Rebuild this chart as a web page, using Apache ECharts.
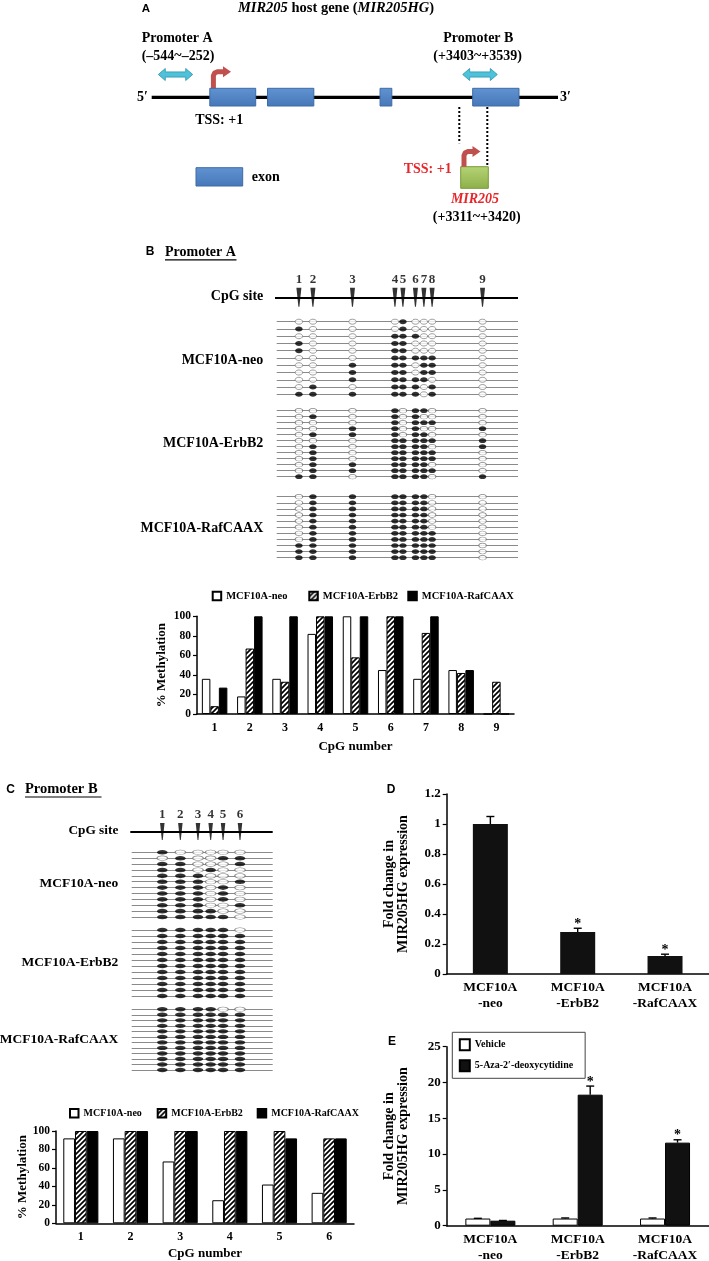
<!DOCTYPE html>
<html><head><meta charset="utf-8">
<script src="https://cdn.jsdelivr.net/npm/echarts@6/dist/echarts.min.js"></script>
<style>html,body{margin:0;padding:0;background:#fff}#c{width:709px;height:1261px}</style>
</head><body><div id="c"></div>
<script>
// ---------------- DATA ----------------
// Panel A: exon spans along the gene schematic (relative units, 0-100)
const exonStart = [14.3, 28.5, 56.2, 79.0];
const exonEnd   = [25.6, 39.9, 59.1, 90.4];

// Panel B: promoter A CpG sites (relative position along amplicon, 0-100)
const cpgNumbersB = ['1','2','3','4','5','6','7','8','9'];
const sitePosB = [9.2, 15.0, 31.4, 49.0, 52.3, 57.5, 61.0, 64.4, 85.3];
const methB_neo = [
 [0,0,0,0,1,0,0,0,0],[1,0,0,0,1,0,0,0,0],[0,0,0,1,1,1,0,0,0],[1,0,0,1,1,0,0,0,0],
 [1,0,0,1,1,0,0,0,0],[0,0,0,1,1,1,1,1,0],[0,0,1,1,1,0,1,1,0],[0,0,1,1,1,0,1,1,0],
 [0,0,1,1,1,1,1,0,0],[0,1,0,1,1,1,0,1,0],[1,1,1,1,1,1,0,1,0]];
const methB_erb = [
 [0,0,0,1,0,1,1,0,0],[0,1,0,1,0,1,0,0,0],[0,0,0,1,0,1,1,1,0],[0,0,1,1,0,1,0,0,1],
 [0,1,1,1,0,1,1,0,0],[0,0,0,1,1,1,1,1,1],[0,1,0,1,1,1,1,0,1],[0,1,0,1,1,1,1,1,0],
 [0,1,0,1,1,1,1,1,0],[0,1,1,1,1,1,1,0,0],[0,1,1,1,1,1,1,1,0],[1,1,0,1,1,1,1,0,1]];
const methB_raf = [
 [0,1,1,1,1,1,1,0,0],[0,1,1,1,1,1,1,0,0],[0,1,1,1,1,1,1,0,0],[0,1,1,1,1,1,1,0,0],
 [0,1,1,1,1,1,1,0,0],[0,1,1,1,1,1,1,0,0],[0,1,1,1,1,1,1,1,0],[0,1,1,1,1,1,1,1,0],
 [1,1,1,1,1,1,1,1,0],[1,1,1,1,1,1,1,1,0],[1,1,1,1,1,1,1,1,0]];
const pctB_neo = [36, 18, 36, 82, 100, 45, 36, 45, 0];
const pctB_erb = [8, 67, 33, 100, 58, 100, 83, 42, 33];
const pctB_raf = [27, 100, 100, 100, 100, 100, 100, 45, 0];

// Panel C: promoter B CpG sites
const cpgNumbersC = ['1','2','3','4','5','6'];
const sitePosC = [21.7, 34.5, 47.0, 56.0, 64.8, 76.8];
const methC_neo = [
 [1,0,0,0,0,0],[0,1,0,0,1,1],[1,1,0,0,0,1],[1,1,0,1,0,0],[1,1,1,0,0,0],[1,1,1,0,0,1],
 [1,1,1,0,1,0],[1,1,1,0,1,0],[1,1,1,0,1,0],[1,1,1,0,0,1],[1,1,1,1,0,0],[1,1,1,1,1,0]];
const methC_erb = [
 [1,1,1,1,1,0],[1,1,1,1,1,1],[1,1,1,1,1,1],[1,1,1,1,1,1],[1,1,1,1,1,1],[1,1,1,1,1,1],
 [1,1,1,1,1,1],[1,1,1,1,1,1],[1,1,1,1,1,1],[1,1,1,1,1,1],[1,1,1,1,1,1],[1,1,1,1,1,1]];
const methC_raf = [
 [1,1,1,1,0,0],[1,1,1,1,1,1],[1,1,1,1,1,1],[1,1,1,1,1,1],[1,1,1,1,1,1],[1,1,1,1,1,1],
 [1,1,1,1,1,1],[1,1,1,1,1,1],[1,1,1,1,1,1],[1,1,1,1,1,1],[1,1,1,1,1,1],[1,1,1,1,1,1]];
const pctC_neo = [92, 92, 67, 25, 42, 33];
const pctC_erb = [100, 100, 100, 100, 100, 92];
const pctC_raf = [100, 100, 100, 100, 92, 92];

// Panel D
const cellLines = ['MCF10A\n-neo', 'MCF10A\n-ErbB2', 'MCF10A\n-RafCAAX'];
const foldD = [1.0, 0.28, 0.12];
const errD  = [0.05, 0.025, 0.012];
const sigD  = [0, 1, 1];

// Panel E
const vehicleE    = [1.0, 1.0, 1.0];
const vehicleErrE = [0.03, 0.08, 0.08];
const azaE        = [0.7, 18.3, 11.6];
const azaErrE     = [0.03, 1.2, 0.4];
const sigE        = [0, 1, 1];

// ---------------- STYLE HELPERS ----------------
const F = 'Liberation Serif';
const txt = (size, extra) => Object.assign({fontFamily: F, fontWeight: 'bold', fontSize: size, color: '#000'}, extra || {});
const font = (size, style) => (style ? style + ' ' : '') + 'bold ' + size + 'px "Liberation Serif"';

function hatchCanvas() {
  const c = document.createElement('canvas'); c.width = 5; c.height = 5;
  const g = c.getContext('2d');
  g.fillStyle = '#fff'; g.fillRect(0, 0, 5, 5);
  g.strokeStyle = '#000'; g.lineWidth = 1.7; g.beginPath();
  g.moveTo(0, 5); g.lineTo(5, 0);
  g.moveTo(-1, 1); g.lineTo(1, -1);
  g.moveTo(4, 6); g.lineTo(6, 4);
  g.stroke();
  return c;
}
const hatch = {image: hatchCanvas(), repeat: 'repeat'};

const ELLIPSE = 'path://M0,5C0,2.24 2.24,0 5,0C7.76,0 10,2.24 10,5C10,7.76 7.76,10 5,10C2.24,10 0,7.76 0,5Z';
const SPIKE = 'path://M0,0L10,0L6,40L4,40Z';

const chart = echarts.init(document.getElementById('c'), null, {width: 709, height: 1261});

const grids = [], xAxes = [], yAxes = [], series = [];
function addGrid(g) { grids.push(Object.assign({outerBoundsMode: 'none', containLabel: false}, g)); return grids.length - 1; }
function hiddenAxes(gi, ymin, ymax, inverse) {
  xAxes.push({type: 'value', gridIndex: gi, min: 0, max: 100, show: false});
  yAxes.push({type: 'value', gridIndex: gi, min: ymin, max: ymax, inverse: !!inverse, show: false});
}

// ---- Panel A grid (exons) ----
const gA = addGrid({left: 151.7, top: 88.3, width: 406.3, height: 17.7});
hiddenAxes(gA, 0, 1);
series.push({
  type: 'custom', xAxisIndex: gA, yAxisIndex: gA, z: 5, silent: true,
  data: exonStart.map((s, i) => [s, exonEnd[i]]),
  renderItem: (p, api) => {
    const a = api.coord([api.value(0), 1]), b = api.coord([api.value(1), 0]);
    return {type: 'rect', shape: {x: a[0], y: a[1], width: b[0] - a[0], height: b[1] - a[1]},
      style: {fill: new echarts.graphic.LinearGradient(0, 0, 0, 1, [{offset: 0, color: '#6193d2'}, {offset: 1, color: '#4677b8'}]),
              stroke: '#3d6ba5', lineWidth: 1}};
  }
});

// ---- Lollipop builder ----
function lollipopHeader(left, width, top, height, sites, nums, mSize, lblSize) {
  const gi = addGrid({left, top, width, height});
  hiddenAxes(gi, 0, 1);
  series.push({type: 'lines', coordinateSystem: 'cartesian2d', xAxisIndex: gi, yAxisIndex: gi, silent: true, z: 2,
    data: [{coords: [[-1, 0.5], [100, 0.5]]}], lineStyle: {color: '#000', width: 2, opacity: 1}});
  series.push({type: 'scatter', xAxisIndex: gi, yAxisIndex: gi, silent: true, z: 4,
    symbol: SPIKE, symbolSize: mSize, itemStyle: {color: '#000'},
    data: sites.map(s => [s, 0.5]),
    label: {show: true, position: 'top', distance: 2, formatter: p => nums[p.dataIndex], ...txt(lblSize)}});
}
function lollipopGroup(left, width, top, height, sites, mat, eSize) {
  const gi = addGrid({left, top, width, height});
  hiddenAxes(gi, -0.5, mat.length - 0.5, true);
  series.push({type: 'lines', coordinateSystem: 'cartesian2d', xAxisIndex: gi, yAxisIndex: gi, silent: true, z: 2,
    data: mat.map((r, i) => ({coords: [[0, i], [100, i]]})), lineStyle: {color: '#8a8a8a', width: 1, opacity: 1}});
  const filled = [], open = [];
  mat.forEach((row, r) => row.forEach((v, s) => (v ? filled : open).push([sites[s], r])));
  series.push({type: 'scatter', xAxisIndex: gi, yAxisIndex: gi, silent: true, z: 4, symbol: ELLIPSE, symbolSize: eSize,
    data: open, itemStyle: {color: '#fff', borderColor: '#6a6a6a', borderWidth: 0.8}});
  series.push({type: 'scatter', xAxisIndex: gi, yAxisIndex: gi, silent: true, z: 4, symbol: ELLIPSE, symbolSize: eSize,
    data: filled, itemStyle: {color: '#000'}});
}

// Panel B lollipops
lollipopHeader(276.7, 241.3, 287.3, 20, sitePosB, cpgNumbersB, [5, 19], 13);
lollipopGroup(276.7, 241.3, 318.07, 79.86, sitePosB, methB_neo, [7.5, 5]);
lollipopGroup(276.7, 241.3, 407.7, 72, sitePosB, methB_erb, [7.5, 4.7]);
lollipopGroup(276.7, 241.3, 493.65, 67.1, sitePosB, methB_raf, [7.5, 4.7]);
// Panel C lollipops
lollipopHeader(131.7, 141, 821, 21, sitePosC, cpgNumbersC, [4.5, 17], 13);
lollipopGroup(131.7, 141, 849.36, 70.6, sitePosC, methC_neo, [10.5, 4.6]);
lollipopGroup(131.7, 141, 927, 72, sitePosC, methC_erb, [10.5, 4.6]);
lollipopGroup(131.7, 141, 1006.54, 66.2, sitePosC, methC_raf, [10.5, 4.4]);

// ---- methylation bar charts ----
function methBars(left, top, width, height, cats, neo, erb, raf, bw, catFont, nameGapX, nameGapY) {
  const gi = addGrid({left, top, width, height});
  xAxes.push({type: 'category', gridIndex: gi, data: cats,
    axisLine: {show: true, lineStyle: {color: '#000', width: 1.5}}, axisTick: {show: false},
    axisLabel: {...txt(12), margin: 8, interval: 0},
    name: 'CpG number', nameLocation: 'middle', nameGap: nameGapX, nameTextStyle: txt(13), nameMoveOverlap: false});
  yAxes.push({type: 'value', gridIndex: gi, min: 0, max: 100, interval: 20,
    axisLine: {show: true, lineStyle: {color: '#000', width: 1.5}},
    axisTick: {show: true, length: 4, lineStyle: {color: '#000', width: 1.2}},
    splitLine: {show: false}, axisLabel: {...txt(11.5), margin: 6},
    name: '% Methylation', nameLocation: 'middle', nameRotate: 90, nameGap: nameGapY, nameTextStyle: txt(13), nameMoveOverlap: false});
  series.push({type: 'bar', name: 'MCF10A-neo', xAxisIndex: gi, yAxisIndex: gi, data: neo, barWidth: bw, barGap: '0%',
    itemStyle: {color: '#fff', borderColor: '#000', borderWidth: 1}});
  series.push({type: 'bar', name: 'MCF10A-ErbB2', xAxisIndex: gi, yAxisIndex: gi, data: erb, barWidth: bw, barGap: '0%',
    itemStyle: {color: hatch, borderColor: '#000', borderWidth: 1}});
  series.push({type: 'bar', name: 'MCF10A-RafCAAX', xAxisIndex: gi, yAxisIndex: gi, data: raf, barWidth: bw, barGap: '0%',
    itemStyle: {color: '#000', borderColor: '#000', borderWidth: 1}});
}
methBars(197, 616.3, 317, 97.7, cpgNumbersB, pctB_neo, pctB_erb, pctB_raf, 8.5, 12, 26, 29);
methBars(56, 1131, 298, 92.3, cpgNumbersC, pctC_neo, pctC_erb, pctC_raf, 11.7, 12, 24, 27);

// ---- Expression bar charts D & E ----
function errSeries(gi, data) {
  return {type: 'custom', xAxisIndex: gi, yAxisIndex: gi, z: 6, silent: true, clip: false, data,
    renderItem: (p, api) => {
      const off = api.value(4);
      const b = api.coord([api.value(0), api.value(1)]);
      const t = api.coord([api.value(0), api.value(2)]);
      const x = b[0] + off;
      const ch = [
        {type: 'line', shape: {x1: x, y1: b[1], x2: x, y2: t[1]}, style: {stroke: '#000', lineWidth: 1.4}},
        {type: 'line', shape: {x1: x - 4, y1: t[1], x2: x + 4, y2: t[1]}, style: {stroke: '#000', lineWidth: 1.4}}
      ];
      if (api.value(3)) ch.push({type: 'text', style: {text: '*', x: x, y: t[1] - 4, align: 'center', verticalAlign: 'middle',
        font: font(14), fill: '#000'}});
      return {type: 'group', children: ch};
    }};
}
function exprAxes(gi, max, interval) {
  xAxes.push({type: 'category', gridIndex: gi, data: cellLines,
    axisLine: {show: true, lineStyle: {color: '#000', width: 1.5}}, axisTick: {show: false},
    axisLabel: {...txt(13.5), lineHeight: 16, margin: 6, interval: 0}});
  yAxes.push({type: 'value', gridIndex: gi, min: 0, max, interval,
    axisLine: {show: true, lineStyle: {color: '#000', width: 1.5}},
    axisTick: {show: true, length: 4, lineStyle: {color: '#000', width: 1.2}},
    splitLine: {show: false}, axisLabel: {...txt(13), margin: 6},
    name: 'Fold change in\nMIR205HG expression', nameLocation: 'middle', nameRotate: 90, nameGap: 36,
    nameTextStyle: txt(14, {lineHeight: 14.5}), nameMoveOverlap: false});
}
const gD = addGrid({left: 446.7, top: 794, width: 262, height: 180});
exprAxes(gD, 1.2, 0.2);
series.push({type: 'bar', name: 'Fold', xAxisIndex: gD, yAxisIndex: gD, data: foldD, barWidth: 35, itemStyle: {color: '#111'}});
series.push(errSeries(gD, foldD.map((v, i) => [i, v, v + errD[i], sigD[i], 0])));

const gE = addGrid({left: 446.7, top: 1046.7, width: 262, height: 179});
exprAxes(gE, 25, 5);
series.push({type: 'bar', name: 'Vehicle', xAxisIndex: gE, yAxisIndex: gE, data: vehicleE, barWidth: 25, barGap: '0%',
  itemStyle: {color: '#fff', borderColor: '#000', borderWidth: 1}});
series.push({type: 'bar', name: '5-Aza-2′-deoxycytidine', xAxisIndex: gE, yAxisIndex: gE, data: azaE, barWidth: 25, barGap: '0%',
  itemStyle: {color: '#111', borderColor: '#000', borderWidth: 1}});
series.push(errSeries(gE, [].concat(
  vehicleE.map((v, i) => [i, v, v + vehicleErrE[i], 0, -12.5]),
  azaE.map((v, i) => [i, v, v + azaErrE[i], sigE[i], 12.5]))));

// ---- legends ----
const lg = (names, left, top, size, box) => ({data: names, left, top, icon: 'rect', itemWidth: box, itemHeight: box,
  padding: 0, selectedMode: false, textStyle: txt(size)});
const legends = [
  lg(['MCF10A-neo'], 211.7, 590.4, 10.5, 8.5),
  lg(['MCF10A-ErbB2'], 308.3, 590.4, 10.5, 8.5),
  lg(['MCF10A-RafCAAX'], 407.3, 590.4, 10.5, 8.5),
  lg(['MCF10A-neo'], 69, 1108, 10, 8.5),
  lg(['MCF10A-ErbB2'], 156.7, 1108, 10, 8.5),
  lg(['MCF10A-RafCAAX'], 256.7, 1108, 10, 8.5),
  {data: ['Vehicle', '5-Aza-2′-deoxycytidine'], orient: 'vertical', left: 452.3, top: 1032.3, icon: 'rect',
   itemWidth: 10, itemHeight: 11, itemGap: 8, padding: [6, 12, 6, 6.5], borderColor: '#444', borderWidth: 1,
   selectedMode: false, textStyle: txt(10)}
];

// ---- graphic annotations ----
const T = (x, y, text, size, align, extra) => ({type: 'text', x, y, silent: true,
  style: Object.assign({text, font: font(size), fill: '#000', align: align || 'left', verticalAlign: 'middle'}, extra || {})});
const S = (x, y, text, size) => ({type: 'text', x, y, silent: true,
  style: {text, font: 'bold ' + size + 'px "Liberation Sans"', fill: '#000', align: 'center', verticalAlign: 'middle'}});
const L = (x1, y1, x2, y2, w, extra) => ({type: 'line', silent: true, shape: {x1, y1, x2, y2},
  style: Object.assign({stroke: '#000', lineWidth: w}, extra || {})});
const cyanArrow = (x1, x2, y) => ({type: 'polygon', silent: true, shape: {points: [
  [x1, y], [x1 + 7, y - 6], [x1 + 7, y - 2.6], [x2 - 7, y - 2.6], [x2 - 7, y - 6], [x2, y],
  [x2 - 7, y + 6], [x2 - 7, y + 2.6], [x1 + 7, y + 2.6], [x1 + 7, y + 6]]},
  style: {fill: '#4cc3da', stroke: '#2b93ab', lineWidth: 0.8}});
const bentArrow = (x, yb, yt, xe) => [
  {type: 'polyline', silent: true, shape: {points: [[x, yb], [x, yt + 4], [x + 1.2, yt + 1.3], [x + 4, yt], [xe - 7, yt]]},
   style: {stroke: '#c0504d', lineWidth: 5, lineJoin: 'round', fill: null}},
  {type: 'polygon', silent: true, shape: {points: [[xe - 8, yt - 5.5], [xe, yt], [xe - 8, yt + 5.5]]}, style: {fill: '#c0504d'}}
];

const ital = {fontStyle: 'italic', fontWeight: 'bold', fontSize: 14.5, fontFamily: F};
const norm = {fontWeight: 'bold', fontSize: 14.5, fontFamily: F};
const graphics = [
  // Panel A
  S(146, 8.5, 'A', 11.5),
  {type: 'text', x: 336, y: 8.5, silent: true, style: {text: '{i|MIR205}{n| host gene (}{i|MIR205HG}{n|)}',
    rich: {i: ital, n: norm}, fill: '#000', align: 'center', verticalAlign: 'middle'}},
  T(141.7, 38.3, 'Promoter A', 14), T(141.7, 56.7, '(–544~–252)', 14),
  T(443.3, 38.3, 'Promoter B', 14), T(433.3, 56.7, '(+3403~+3539)', 14),
  cyanArrow(158.3, 192.7, 74.5), cyanArrow(462.7, 497.3, 74.5),
  L(151.7, 97.3, 558, 97.3, 3.3),
  T(142.5, 97.3, '5′', 14, 'center'), T(565.5, 97.3, '3′', 14, 'center'),
  ...bentArrow(213.4, 89, 71.8, 231),
  T(219.2, 120, 'TSS: +1', 14, 'center'),
  L(459.3, 107, 459.3, 143.3, 2, {lineDash: [2, 2]}),
  L(487.3, 107, 487.3, 166, 2, {lineDash: [2, 2]}),
  {type: 'rect', silent: true, shape: {x: 460.7, y: 166.7, width: 27.6, height: 21.6},
   style: {fill: new echarts.graphic.LinearGradient(0, 0, 0, 1, [{offset: 0, color: '#b5d374'}, {offset: 1, color: '#8db04a'}]),
           stroke: '#789a3a', lineWidth: 1}},
  ...bentArrow(464, 166.7, 151.5, 480.5),
  T(451.7, 169.3, 'TSS: +1', 14, 'right', {fill: '#e8262a'}),
  T(475, 199, 'MIR205', 14, 'center', {fill: '#e8262a', font: font(14, 'italic')}),
  T(476.7, 217.3, '(+3311~+3420)', 14, 'center'),
  {type: 'rect', silent: true, shape: {x: 196, y: 167.7, width: 46.7, height: 18.3},
   style: {fill: new echarts.graphic.LinearGradient(0, 0, 0, 1, [{offset: 0, color: '#6193d2'}, {offset: 1, color: '#4677b8'}]),
           stroke: '#3d6ba5', lineWidth: 1}},
  T(251.7, 177.3, 'exon', 14),
  // Panel B labels
  S(150, 252, 'B', 12), T(165, 252, 'Promoter A', 14), L(165, 259.8, 236.5, 259.8, 1.2),
  T(263.3, 296.7, 'CpG site', 14, 'right'),
  T(263.3, 360, 'MCF10A-neo', 14, 'right'),
  T(263.3, 443.3, 'MCF10A-ErbB2', 14, 'right'),
  T(263.3, 528.3, 'MCF10A-RafCAAX', 14, 'right'),
  // Panel C labels
  S(10.7, 790, 'C', 12), T(25, 789.5, 'Promoter B', 14.5), L(25, 797, 101.5, 797, 1.2),
  T(118.3, 831, 'CpG site', 13.3, 'right'),
  T(118.3, 883.3, 'MCF10A-neo', 13.5, 'right'),
  T(118.3, 962.5, 'MCF10A-ErbB2', 13.5, 'right'),
  T(118.3, 1040, 'MCF10A-RafCAAX', 13.5, 'right'),
  // D / E
  S(391, 790, 'D', 12), S(392, 1041.7, 'E', 12)
];

chart.setOption({
  animation: false,
  backgroundColor: '#fff',
  textStyle: {fontFamily: F},
  grid: grids, xAxis: xAxes, yAxis: yAxes,
  legend: legends,
  series,
  graphic: {elements: graphics}
});
</script></body></html>
